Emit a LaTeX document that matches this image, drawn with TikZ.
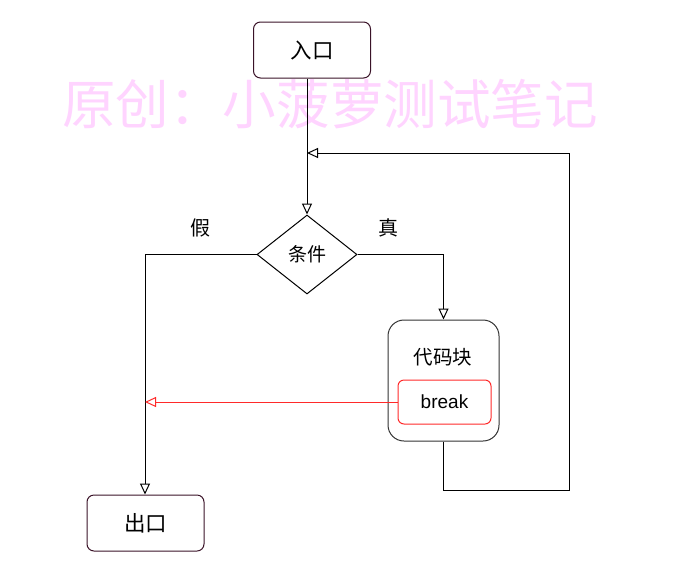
\documentclass[tikz,border=0pt]{standalone}
\usepackage{fontspec}
\setmainfont{Liberation Sans}
\newfontfamily\cjk{Noto Sans CJK SC}
\usetikzlibrary{arrows.meta,shapes.geometric}
\definecolor{wm}{HTML}{FFD4FF}
\definecolor{term}{HTML}{3A1328}
\definecolor{brk}{HTML}{FF2A2A}
\tikzset{
  termbox/.style={draw=term,line width=1pt,rounded corners=7pt,minimum width=117pt,minimum height=56pt,font=\cjk\fontsize{21.5}{24}\selectfont},
  blockbox/.style={draw=black!80,line width=1pt,rounded corners=16pt,minimum width=111pt,minimum height=121pt},
  brkbox/.style={draw=brk,line width=1pt,rounded corners=6pt,minimum width=93pt,minimum height=44pt,font=\fontsize{19}{22}\selectfont},
  cond/.style={draw,line width=1pt,diamond,minimum width=100pt,minimum height=79pt,inner sep=0pt,font=\cjk\fontsize{19}{22}\selectfont},
  lbl/.style={font=\cjk\fontsize{20}{23}\selectfont},
  flow/.style={line width=1pt,-{Triangle[open,length=11pt,width=10pt]}},
  redflow/.style={draw=brk,line width=1pt,-{Triangle[open,length=11pt,width=10pt]}}
}
\begin{document}
\begin{tikzpicture}[x=1pt,y=-1pt]
\useasboundingbox (0,0) rectangle (700,581);
\node[text=wm,font=\cjk\fontsize{53.6}{60}\selectfont] (wmark) at (330,104) {原创：小菠萝测试笔记};
\node[termbox] (entry) at (312,50) {入口};
\node[cond] (dia) at (307,254.5) {条件};
\node[blockbox] (block) at (443.5,380.5) {};
\node[font=\cjk\fontsize{19.5}{22}\selectfont] (blocktxt) at (443,357) {代码块};
\node[brkbox] (brk) at (444.5,402) {break};
\node[termbox] (exit) at (145.5,523) {出口};
\node[lbl] (f) at (200,228) {假};
\node[lbl] (t) at (388,228) {真};
\coordinate (join) at (307,153);
\coordinate (brkend) at (145,402);
\draw[flow] (entry.south -| dia.north) -- (dia.north);
\draw[flow] (dia.west) -| (exit.north -| brkend);
\draw[flow] (dia.east) -| (block.north);
\draw[flow] (block.south) -- (443.5,490) -- (569,490) -- (569,153) -- (join);
\draw[redflow] (brk.west) -- (brkend);
\end{tikzpicture}
\end{document}
